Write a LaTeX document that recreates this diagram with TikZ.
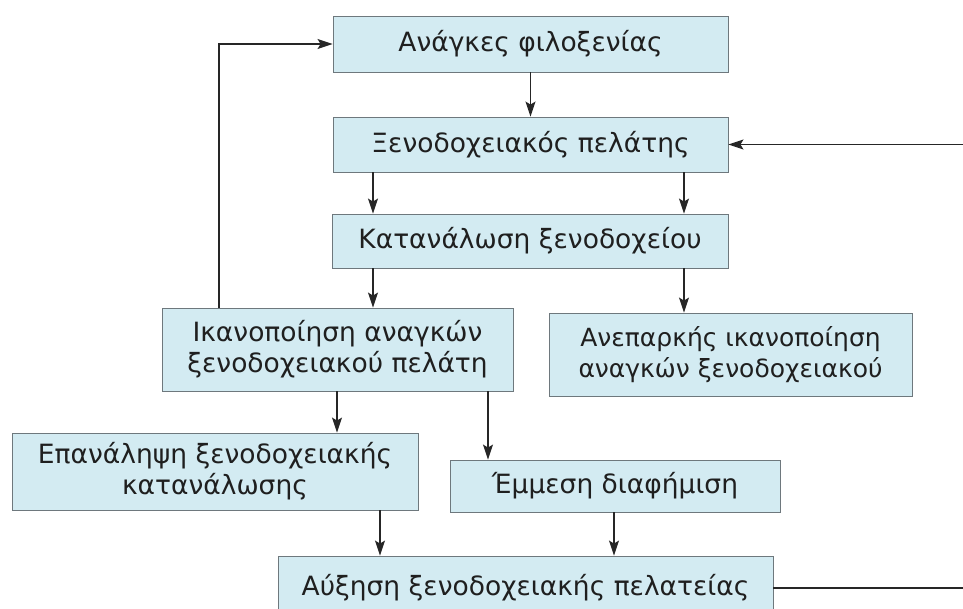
\documentclass[tikz,border=0pt]{standalone}
\usepackage{fontspec}
\setmainfont{DejaVu Sans}
\usetikzlibrary{arrows.meta}
\definecolor{boxfill}{RGB}{211,235,242}
\definecolor{boxline}{RGB}{110,120,125}
\tikzset{
  flowbox/.style={draw=boxline, line width=0.9pt, fill=boxfill, inner sep=0pt,
    align=center, font=\fontsize{26.5}{31}\selectfont, text=black!88},
  arr/.style={draw=black!85, line width=1.2pt, -{Stealth[length=15pt,width=10pt,inset=3pt]}},
  plainline/.style={draw=black!85, line width=1.2pt}
}
\begin{document}
\begin{tikzpicture}[x=1pt,y=-1pt]
\useasboundingbox (0,0) rectangle (963,608);
\clip (0,0) rectangle (963,608);
% boxes: centre, width, height
\node[flowbox, minimum width=395pt, minimum height=56pt] (needs) at (530.5,44) {Ανάγκες φιλοξενίας};
\node[flowbox, minimum width=395pt, minimum height=55pt] (guest) at (530.5,144.5) {Ξενοδοχειακός πελάτης};
\node[flowbox, minimum width=396pt, minimum height=54pt] (consume) at (530,241) {Κατανάλωση ξενοδοχείου};
\node[flowbox, minimum width=351pt, minimum height=83pt] (satisf) at (337.5,349.5) {Ικανοποίηση αναγκών\\ξενοδοχειακού πελάτη};
\node[flowbox, minimum width=363pt, minimum height=83pt, font=\fontsize{25}{31}\selectfont] (insuff) at (730.5,354.5) {Ανεπαρκής ικανοποίηση\\αναγκών ξενοδοχειακού};
\node[flowbox, minimum width=406pt, minimum height=77pt] (repeat) at (215,471.5) {Επανάληψη ξενοδοχειακής\\κατανάλωσης};
\node[flowbox, minimum width=330pt, minimum height=52pt] (advert) at (615,486) {Έμμεση διαφήμιση};
\node[flowbox, minimum width=495pt, minimum height=64pt] (growth) at (525.5,588) {Αύξηση ξενοδοχειακής πελατείας};
% free ends at the right edge
\coordinate (inR) at (963,144.5);
\coordinate (outR) at (963,588);
\coordinate (loopTop) at (219,44);
% connectors
\draw[arr] (needs) -- (guest);
\draw[arr] (inR) -- (guest.east);
\draw[arr] (guest.south -| 373,0) -- (consume.north -| 373,0);
\draw[arr] (guest.south -| 684,0) -- (consume.north -| 684,0);
\draw[arr] (consume.south -| 373,0) -- (satisf.north -| 373,0);
\draw[arr] (consume.south -| 684,0) -- (insuff.north -| 684,0);
\draw[arr] (satisf.north -| loopTop) -- (loopTop) -- (needs.west);
\draw[arr] (satisf.south -| 337,0) -- (repeat.north -| 337,0);
\draw[arr] (satisf.south -| 488,0) -- (advert.north -| 488,0);
\draw[arr] (repeat.south -| 380,0) -- (growth.north -| 380,0);
\draw[arr] (advert.south -| 614,0) -- (growth.north -| 614,0);
\draw[plainline] (growth.east) -- (outR);
\end{tikzpicture}
\end{document}
